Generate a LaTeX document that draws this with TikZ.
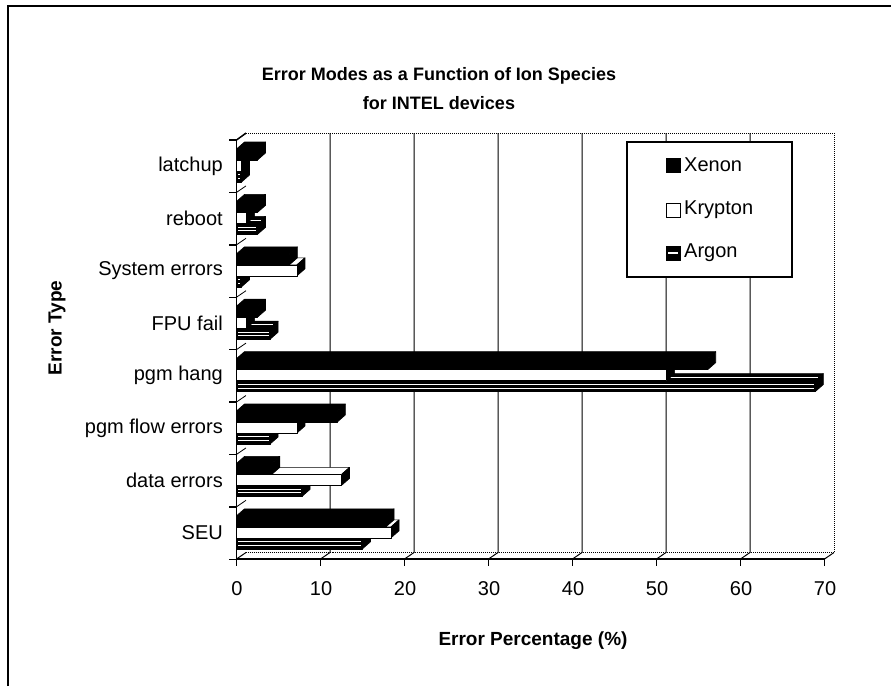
\documentclass[tikz,border=0pt]{standalone}
\usepackage{fontspec}
\setmainfont{Liberation Sans}
% one 3-D horizontal bar: #1 value, #2 top of front face, #3 front fill, #4 top fill
\newcommand\boxbar[4]{%
  \pgfmathsetmacro\xe{236.5+8.4*#1}%
  \pgfmathsetmacro\yt{#2}%
  \filldraw[barline, fill=#4] (236.5,\yt) -- (244.5,\yt-7) -- (\xe+8,\yt-7) -- (\xe,\yt) -- cycle;
  \filldraw[barline, fill=black] (\xe,\yt) -- (\xe+8,\yt-7) -- (\xe+8,\yt+4) -- (\xe,\yt+11) -- cycle;
  \filldraw[barline, fill=#3] (236.5,\yt) rectangle (\xe,\yt+11);
}
\begin{document}
\begin{tikzpicture}[x=1pt,y=-1pt,
  lab/.style={font=\fontsize{20}{24}\selectfont, inner sep=0pt},
  ttl/.style={font=\bfseries\fontsize{18}{22}\selectfont, inner sep=0pt},
  axt/.style={font=\bfseries\fontsize{19}{23}\selectfont, inner sep=0pt},
  wall/.style={line width=1pt, densely dotted},
  gridline/.style={line width=1pt},
  axisline/.style={line width=1.4pt},
  barline/.style={draw=black, line width=0.6pt, line join=round},
  stripe/.style={white, line width=0.7pt},
  marker/.style={draw, line width=1pt, minimum size=14pt, inner sep=0pt}]
\useasboundingbox (0,0) rectangle (891,686);
\fill[white] (0,0) rectangle (891,686);

% outer frame (top and left edges)
\draw[line width=2pt] (8,686) -- (8,6) -- (891,6);

% title
\node[ttl] (title1) at (439,76) {Error Modes as a Function of Ion Species};
\node[ttl] (title2) at (439,103) {for INTEL devices};

% back wall with vertical gridlines and floor lines
\draw[wall] (246,133) -- (834,133) -- (834,552.5) -- (246,552.5);
\foreach \v in {10,20,...,60} {
  \draw[gridline] (236.5+8.4*\v+9.5,133) -- (236.5+8.4*\v+9.5,552.5) -- (236.5+8.4*\v,559);
}
\draw[line width=1pt] (834,552.5) -- (824.5,559);
\draw[line width=1pt] (236.5,559) -- (246,552.5);

% left wall floor lines and category ticks
\foreach \k in {0,...,7} {
  \draw[line width=0.8pt] (236.5,140+52.4*\k) -- (246,133.5+52.4*\k);
}
\foreach \k in {0,...,8} {
  \draw[axisline] (229,140+52.4*\k) -- (236.5,140+52.4*\k);
}

% bars: Xenon, Krypton, Argon per error type
\foreach \name/\xv/\kv/\av [count=\i from 0] in {
    latchup/2.5/0.6/0.6,
    reboot/2.5/1.2/2.5,
    System errors/6.3/7.2/0.6,
    FPU fail/2.5/1.2/4.0,
    pgm hang/56.1/51.2/68.9,
    pgm flow errors/12.0/7.2/4.0,
    data errors/4.2/12.5/7.8,
    SEU/17.8/18.4/15.0} {
  \pgfmathsetmacro\T{140+52.4*\i}
  % Argon
  \boxbar{\av}{\T+31}{black}{black}
  \draw[stripe] (238,\T+34.7) -- (\xe-1.5,\T+34.7);
  \draw[stripe] (238,\T+38.3) -- (\xe-1.5,\T+38.3);
  \draw[stripe] (240.5,\T+27.5) -- (\xe+3,\T+27.5);
  % Krypton
  \boxbar{\kv}{\T+20}{white}{white}
  % Xenon
  \boxbar{\xv}{\T+9}{black}{black}
  % category label
  \node[lab, anchor=east] (cat\i) at (223,\T+26.2) {\name};
}

% front axes
\draw[axisline] (236.5,140) -- (246,133);
\draw[axisline] (236.5,140) -- (236.5,559) -- (824.5,559);
\foreach \v [count=\j] in {0,10,...,70} {
  \draw[axisline] (236.5+8.4*\v,559) -- (236.5+8.4*\v,566);
  \node[lab] (xt\j) at (237+8.4*\v,589) {\v};
}

% axis titles
\node[axt] (xtitle) at (533,641) {Error Percentage (\%)};
\node[axt, rotate=90] (ytitle) at (57,328) {Error Type};

% legend
\node[draw, line width=1.2pt, fill=white, minimum width=165pt, minimum height=135pt, inner sep=0pt] (legend) at (709.5,209.5) {};
\node[marker, fill=black] (mxe) at (673,165) {};
\node[lab, anchor=west] (txe) at (684,165) {Xenon};
\node[marker, fill=white] (mkr) at (673,210) {};
\node[lab, anchor=west] (tkr) at (684,210) {Krypton};
\node[marker, fill=black] (mar) at (673,253) {};
\draw[white, line width=2pt] ([xshift=2.5pt]mar.west) -- ([xshift=-2.5pt]mar.east);
\node[lab, anchor=west] (tar) at (684,253) {Argon};
\end{tikzpicture}
\end{document}
